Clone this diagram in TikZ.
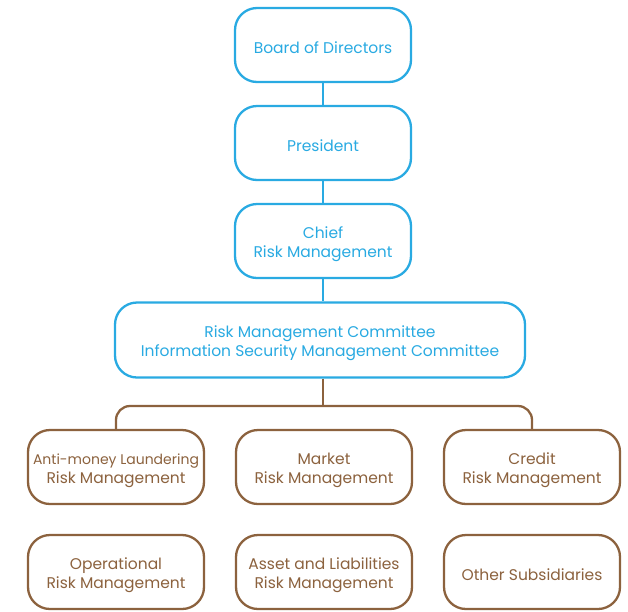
\documentclass[tikz,border=0pt]{standalone}
\usepackage{fontspec}
\setmainfont{Poppins}
\definecolor{orgBlue}{RGB}{41,170,226}
\definecolor{orgBrown}{RGB}{140,98,62}
\newcommand\boxW{176}
\newcommand\boxH{74}
\newcommand\colL{116}
\newcommand\colM{324}
\newcommand\colR{532}
\newcommand\rowA{467}
\newcommand\rowB{572}

\tikzset{
  unit/.style={draw, rounded corners=22pt, line width=2.3pt, fill=white,
    minimum width=\boxW pt, minimum height=\boxH pt, align=center,
    inner sep=1pt, font=\fontsize{15.5}{19}\selectfont,
    execute at begin node={\rule{0pt}{18pt}}},
  twoline/.style={execute at begin node={\rule{0pt}{37pt}}},
  board/.style={unit, draw=orgBlue, text=orgBlue},
  dept/.style={unit, draw=orgBrown, text=orgBrown},
  bluelink/.style={orgBlue, line width=2.3pt},
  brownlink/.style={orgBrown, line width=2.3pt, rounded corners=14pt},
}

\begin{document}
\begin{tikzpicture}[x=1pt, y=-1pt]
    \useasboundingbox (0,0) rectangle (628,611);

    %% top of the chain
    \node[board] (bod) at (323,45) {Board of Directors};
    \node[board] (pres) at (323,143) {President};
    \node[board, twoline] (cro) at (323,241) {Chief\\Risk Management};
    \node[board, twoline, minimum width=410pt, minimum height=75pt] (rmc) at (320,340)
      {Risk Management Committee\\Information Security Management Committee};

    \draw[bluelink] (bod) -- (pres);
    \draw[bluelink] (pres) -- (cro);
    \draw[bluelink] (cro) -- (cro |- rmc.north);

    %% risk units
    \foreach \name/\xpos/\ypos/\opt/\txt in {
        aml/\colL/\rowA/twoline/{{\fontsize{14}{19}\selectfont Anti-money Laundering}\\Risk Management},
        mkt/\colM/\rowA/twoline/{Market\\Risk Management},
        crd/\colR/\rowA/twoline/{Credit\\Risk Management},
        ops/\colL/\rowB/twoline/{Operational\\Risk Management},
        alm/\colM/\rowB/twoline/{Asset and Liabilities\\Risk Management},
        sub/\colR/\rowB/dept/{Other Subsidiaries}}{
      \node[dept, \opt] (\name) at (\xpos,\ypos) {\txt};
    }

    %% bus from the committee
    \coordinate (bus) at (323,406);
    \draw[brownlink] (cro |- rmc.south) -- (bus);
    \draw[brownlink] (aml.north) -- (aml.north |- bus) -- (crd.north |- bus) -- (crd.north);

\end{tikzpicture}
\end{document}
